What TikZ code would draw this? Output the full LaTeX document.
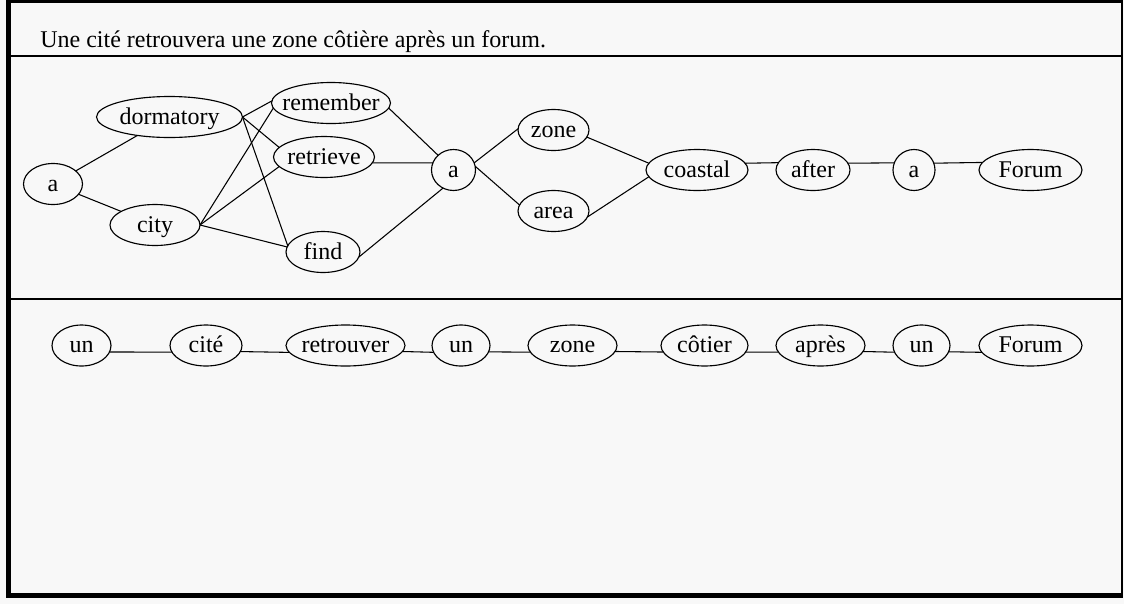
\documentclass[tikz,border=0pt]{standalone}
\usepackage{fontspec}
\setmainfont{Liberation Serif}
\usetikzlibrary{shapes.geometric}
\definecolor{bg}{RGB}{248,248,248}
\newcommand\zw[1]{\makebox[0pt]{#1}}
\begin{document}
\begin{tikzpicture}[x=0.75pt,y=-0.75pt,
  wnode/.style={ellipse, draw, line width=0.85pt, inner sep=0pt, outer sep=0pt,
    minimum width=#1*0.75pt, minimum height=30.75pt,
    text height=13pt, text depth=2.5pt, font=\fontsize{18pt}{20pt}\selectfont},
  conn/.style={line width=0.8pt},
  sepline/.style={line width=1.1pt}]
\fill[bg] (0,0) rectangle (1124,604);
\useasboundingbox (0,0) rectangle (1124,604);
% frame
\draw[line width=3.75pt] (8.5,0) -- (8.5,598);
\draw[line width=2.25pt] (6,1.5) -- (1123,1.5);
\draw[line width=3.75pt] (6,595.5) -- (1123,595.5);
\draw[line width=1.3pt] (1122,0) -- (1122,598);
\draw[sepline] (11,56) -- (1122,56);
\draw[sepline] (11,299) -- (1122,299);
% title
\node[anchor=base west, inner sep=0pt, font=\fontsize{18pt}{20pt}\selectfont] (title) at (40,47)
  {Une cité retrouvera une zone côtière après un forum.};
% top graph
\node[wnode=59]  (a1)    at (53,184)    {\zw{a}};
\node[wnode=146] (dorm)  at (169.5,117) {\zw{dormatory}};
\node[wnode=90]  (city)  at (155,225)   {\zw{city}};
\node[wnode=119] (rem)   at (331,103)   {\zw{remember}};
\node[wnode=101] (ret)   at (324,157)   {\zw{retrieve}};
\node[wnode=74]  (find)  at (323,252)   {\zw{find}};
\node[wnode=44]  (a2)    at (453.5,170) {\zw{a}};
\node[wnode=71]  (zone)  at (553.5,130) {\zw{zone}};
\node[wnode=71]  (area)  at (553.5,211) {\zw{area}};
\node[wnode=102] (coast) at (697,170)   {\zw{coastal}};
\node[wnode=74]  (after) at (813,170)   {\zw{after}};
\node[wnode=42]  (a3)    at (914,170)   {\zw{a}};
\node[wnode=103] (forA)  at (1030.5,170) {\zw{Forum}};
\draw[conn] (a1) -- (dorm);
\draw[conn] (a1) -- (city);
\draw[conn] (dorm.east) -- (rem.178);
\draw[conn] (dorm.east) -- (ret.168);
\draw[conn] (dorm.east) -- (find.170);
\draw[conn] (city.east) -- (rem.185);
\draw[conn] (city.east) -- (ret.192);
\draw[conn] (city.east) -- (find.172);
\draw[conn] (rem.-5) -- (a2);
\draw[conn] (ret.-7) -- (a2.161);
\draw[conn] (find.-8) -- (a2.240);
\draw[conn] (a2.19) -- (zone.178);
\draw[conn] (a2.10) -- (area.170);
\draw[conn] (zone.-12) -- (coast.172);
\draw[conn] (area.-10) -- (coast.188);
\draw[conn] (coast.8.3) -- (after.168.6);
\draw[conn] (after.11.4) -- (a3.160.4);
\draw[conn] (a3.19.6) -- (forA.171.8);
% bottom graph
\node[wnode=59]  (un1)    at (81.5,345.5)  {\zw{un}};
\node[wnode=72]  (cite)   at (206,345.5)   {\zw{cité}};
\node[wnode=119] (retr)   at (345.5,345.5) {\zw{retrouver}};
\node[wnode=58]  (un2)    at (461,345.5)   {\zw{un}};
\node[wnode=89]  (zoneB)  at (572.5,345.5) {\zw{zone}};
\node[wnode=87]  (cotier) at (704.5,345.5) {\zw{côtier}};
\node[wnode=89]  (apres)  at (820.5,345.5) {\zw{après}};
\node[wnode=57]  (un3)    at (921.5,345.5) {\zw{un}};
\node[wnode=103] (forB)   at (1030.5,345.5) {\zw{Forum}};
\draw[conn] (un1.-13.1) -- (cite.-169.2);
\draw[conn] (cite.-10.8) -- (retr.-173.4);
\draw[conn] (retr.-6.6) -- (un2.-166.7);
\draw[conn] (un2.-13.3) -- (zoneB.-171.2);
\draw[conn] (zoneB.-8.8) -- (cotier.-171);
\draw[conn] (cotier.-9) -- (apres.-171.2);
\draw[conn] (apres.-8.8) -- (un3.-166.5);
\draw[conn] (un3.-13.5) -- (forB.-172.4);
\end{tikzpicture}
\end{document}
